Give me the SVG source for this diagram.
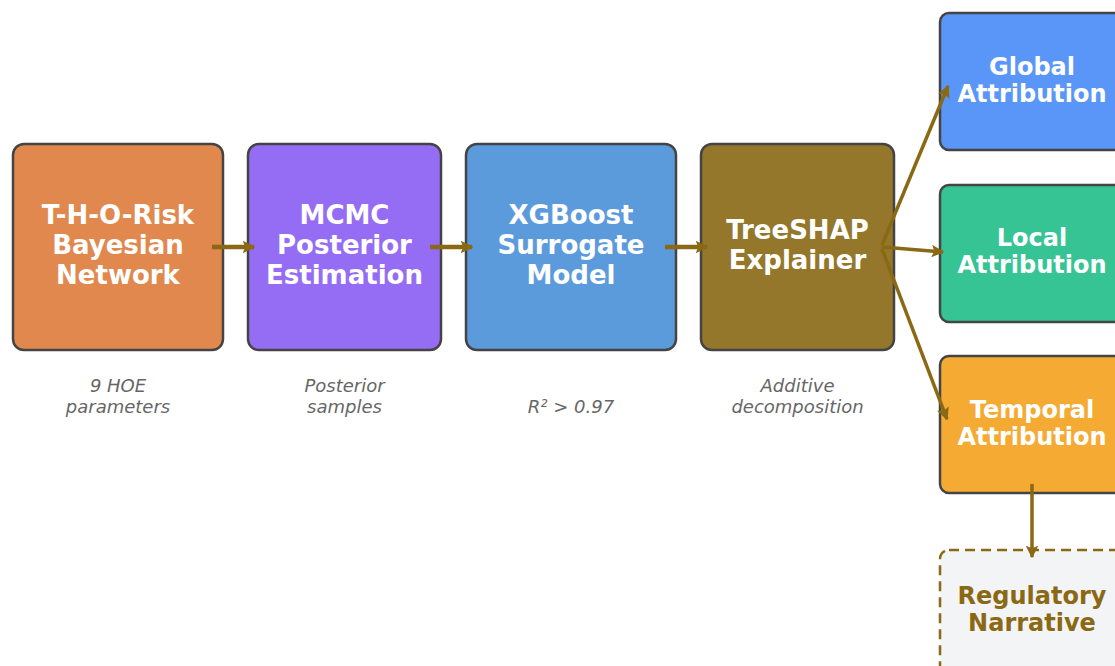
<svg xmlns="http://www.w3.org/2000/svg" width="1115" height="666" viewBox="0 0 1115 666">
<style>
.box{stroke:#444;stroke-width:2.5}
.t{font-family:"DejaVu Sans",sans-serif;font-weight:bold;font-size:26px;fill:#fff;text-anchor:middle}
.s{font-size:24px}
.n{font-family:"DejaVu Sans",sans-serif;font-style:italic;font-size:18px;fill:#666;text-anchor:middle}
.c{stroke:#8B6914;stroke-width:4.5;fill:none}
.cf{stroke:#8B6914;stroke-width:3.5;fill:none}
</style>
<defs>
<marker id="ah" viewBox="0 0 10 10" refX="9" refY="5" markerWidth="2.8" markerHeight="2.8" orient="auto" markerUnits="strokeWidth">
<path d="M0,0 L10,5 L0,10 L2,5 z" fill="#8B6914"/>
</marker>
<marker id="ah2" viewBox="0 0 10 10" refX="9" refY="5" markerWidth="3.6" markerHeight="3.6" orient="auto" markerUnits="strokeWidth">
<path d="M0,0 L10,5 L0,10 L2,5 z" fill="#8B6914"/>
</marker>
</defs>
<rect width="1115" height="666" fill="#fff"/>
<g id="n1"><rect class="box" x="13" y="144" width="210" height="206" rx="11" fill="#E0884E"/>
<text class="t" x="118" y="224">T-H-O-Risk</text><text class="t" x="118" y="254">Bayesian</text><text class="t" x="118" y="284">Network</text></g>
<g id="n2"><rect class="box" x="248" y="144" width="193" height="206" rx="11" fill="#956DF5"/>
<text class="t" x="344.5" y="224">MCMC</text><text class="t" x="344.5" y="254">Posterior</text><text class="t" x="344.5" y="284">Estimation</text></g>
<g id="n3"><rect class="box" x="466" y="144" width="210" height="206" rx="11" fill="#5B9BDC"/>
<text class="t" x="571" y="224">XGBoost</text><text class="t" x="571" y="254">Surrogate</text><text class="t" x="571" y="284">Model</text></g>
<g id="n4"><rect class="box" x="701" y="144" width="193" height="206" rx="11" fill="#94772B"/>
<text class="t" x="797.5" y="239">TreeSHAP</text><text class="t" x="797.5" y="269">Explainer</text></g>
<g id="n5"><rect class="box" x="940" y="13" width="190" height="137" rx="9" fill="#5A96F7"/>
<text class="t s" x="1032" y="75">Global</text><text class="t s" x="1032" y="102">Attribution</text></g>
<g id="n6"><rect class="box" x="940" y="185" width="190" height="137" rx="9" fill="#36C494"/>
<text class="t s" x="1032" y="246">Local</text><text class="t s" x="1032" y="273">Attribution</text></g>
<g id="n7"><rect class="box" x="940" y="356" width="190" height="137" rx="9" fill="#F5AB33"/>
<text class="t s" x="1032" y="418">Temporal</text><text class="t s" x="1032" y="445">Attribution</text></g>
<g id="n8"><rect x="940" y="550" width="190" height="137" rx="9" fill="#F3F4F6" stroke="#8B6914" stroke-width="2.5" stroke-dasharray="10,6"/>
<text class="t s" x="1032" y="604" style="fill:#8B6914">Regulatory</text><text class="t s" x="1032" y="631" style="fill:#8B6914">Narrative</text></g>
<g id="notes">
<text class="n" x="118" y="392">9 HOE</text><text class="n" x="118" y="413">parameters</text>
<text class="n" x="344.5" y="392">Posterior</text><text class="n" x="344.5" y="413">samples</text>
<text class="n" x="571" y="413">R² &gt; 0.97</text>
<text class="n" x="797.5" y="392">Additive</text><text class="n" x="797.5" y="413">decomposition</text>
</g>
<g id="connectors">
<line class="c" x1="212" y1="247" x2="254" y2="247" marker-end="url(#ah)"/>
<line class="c" x1="430" y1="247" x2="472" y2="247" marker-end="url(#ah)"/>
<line class="c" x1="665" y1="247" x2="707" y2="247" marker-end="url(#ah)"/>
<line class="cf" x1="882" y1="245" x2="948" y2="86" marker-end="url(#ah2)"/>
<line class="cf" x1="882" y1="247" x2="943" y2="252" marker-end="url(#ah2)"/>
<line class="cf" x1="882" y1="249" x2="947" y2="419" marker-end="url(#ah2)"/>
<line class="cf" x1="1032" y1="484" x2="1032" y2="557" marker-end="url(#ah2)"/>
</g>
</svg>
